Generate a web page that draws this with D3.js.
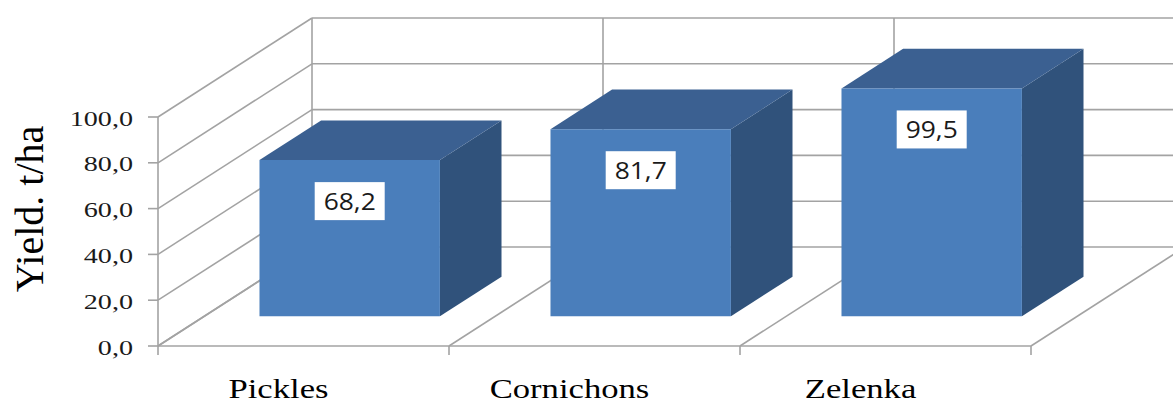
<!DOCTYPE html>
<html>
<head>
<meta charset="utf-8">
<script src="https://cdn.jsdelivr.net/npm/d3@7"></script>
<style>
  html, body { margin: 0; padding: 0; background: #ffffff; }
  svg { display: block; }
</style>
</head>
<body>
<svg id="chart" width="1173" height="405"></svg>
<script>
// Yield per cucumber type, t/ha
const categories = ["Pickles", "Cornichons", "Zelenka"];
const yields = [68.2, 81.7, 99.5];
const yTicks = [0, 20, 40, 60, 80, 100];

const svg = d3.select("#chart");
const W = 1173, H = 405;

// Front plane scales
const x = d3.scaleBand().domain(categories).range([158, 1031]).paddingInner(0).paddingOuter(0);
const xBar = d3.scaleBand().domain(categories).range([158, 1031]).paddingInner(0.38).paddingOuter(0.19);
const y = d3.scaleLinear().domain([0, 100]).range([346, 117]);

// Oblique depth offset of the full plot box
const depth = { dx: 154, dy: -99 };
const proj = (px, py, z) => [px + z * depth.dx, py + z * depth.dy];
const barZ = [0.3, 0.7];

const gridColor = "#a3a3a3";
const grid = svg.append("g")
  .attr("fill", "none")
  .attr("stroke", gridColor)
  .attr("stroke-width", 1.6);

const x0 = x.range()[0], x1 = x.range()[1];
const line = d3.line();

// Back wall horizontal gridlines and left wall diagonals
yTicks.forEach(v => {
  const b0 = proj(x0, y(v), 1);
  const b1 = proj(x1, y(v), 1);
  grid.append("path").attr("d", line([b0, [Math.max(b1[0], W + 20), b1[1]]]));
  grid.append("path").attr("d", line([[x0, y(v)], b0]));
});

// Back wall verticals and floor diagonals at category boundaries
const bounds = categories.map(c => x(c)).concat([x1]);
bounds.forEach(bx => {
  grid.append("path").attr("d", line([proj(bx, y(0), 1), proj(bx, y(100), 1)]));
  grid.append("path").attr("d", line([[bx, y(0)], proj(bx, y(0), 1)]));
});

// Floor front edge and category ticks
grid.append("path").attr("d", line([[x0, y(0)], [x1, y(0)]]));
bounds.forEach(bx => {
  grid.append("path").attr("d", line([[bx, y(0)], [bx, y(0) + 9]]));
});

// Value axis with ticks
grid.append("path").attr("d", line([[x0, y(0)], [x0, y(100)]]));
yTicks.forEach(v => {
  grid.append("path").attr("d", line([[x0 - 10, y(v)], [x0, y(v)]]));
});

const fmt = v => d3.format(".1f")(v).replace(".", ",");

svg.append("g")
  .selectAll("text")
  .data(yTicks)
  .join("text")
  .attr("transform", v => `translate(133,${y(v) + 8.5}) scale(1.28,1)`)
  .attr("text-anchor", "end")
  .attr("font-family", "'Liberation Serif', 'Times New Roman', serif")
  .attr("font-size", 22)
  .attr("fill", "#1a1a1a")
  .text(fmt);

// 3D bars
const colors = { front: "#4a7ebb", top: "#3b6091", side: "#30527b" };
const bars = svg.append("g");
categories.forEach((c, i) => {
  const v = yields[i];
  const l = xBar(c), r = xBar(c) + xBar.bandwidth();
  const yb = y(0), yt = y(v);
  const fbl = proj(l, yb, barZ[0]), fbr = proj(r, yb, barZ[0]);
  const ftl = proj(l, yt, barZ[0]), ftr = proj(r, yt, barZ[0]);
  const bbr = proj(r, yb, barZ[1]);
  const btl = proj(l, yt, barZ[1]), btr = proj(r, yt, barZ[1]);
  const g = bars.append("g");
  g.append("path").attr("d", line([fbr, ftr, btr, bbr]) + "Z").attr("fill", colors.side);
  g.append("path").attr("d", line([ftl, ftr, btr, btl]) + "Z").attr("fill", colors.top);
  g.append("path").attr("d", line([fbl, fbr, ftr, ftl]) + "Z").attr("fill", colors.front);

  // value label box
  const cx = (ftl[0] + ftr[0]) / 2;
  const boxW = 70, boxH = 38;
  const top = ftl[1] + 22;
  g.append("rect")
    .attr("x", cx - boxW / 2).attr("y", top)
    .attr("width", boxW).attr("height", boxH)
    .attr("fill", "#ffffff");
  g.append("text")
    .attr("transform", `translate(${cx},${top + boxH / 2 + 8.5}) scale(1.1,1)`)
    .attr("text-anchor", "middle")
    .attr("font-family", "'Open Sans', 'Noto Sans', sans-serif")
    .attr("font-size", 24)
    .attr("fill", "#1a1a1a")
    .text(fmt(v));
});

// Category labels
svg.append("g")
  .selectAll("text")
  .data(categories)
  .join("text")
  .attr("transform", c => `translate(${x(c) + x.bandwidth() / 2 - 25},398) scale(1.26,1)`)
  .attr("text-anchor", "middle")
  .attr("font-family", "'Liberation Serif', 'Times New Roman', serif")
  .attr("font-size", 27.5)
  .attr("fill", "#000000")
  .text(c => c);

// Axis title
svg.append("text")
  .attr("transform", "translate(43,209) rotate(-90)")
  .attr("text-anchor", "middle")
  .attr("font-family", "'Liberation Serif', 'Times New Roman', serif")
  .attr("font-size", 40)
  .attr("fill", "#000000")
  .text("Yield. t/ha");
</script>
</body>
</html>
